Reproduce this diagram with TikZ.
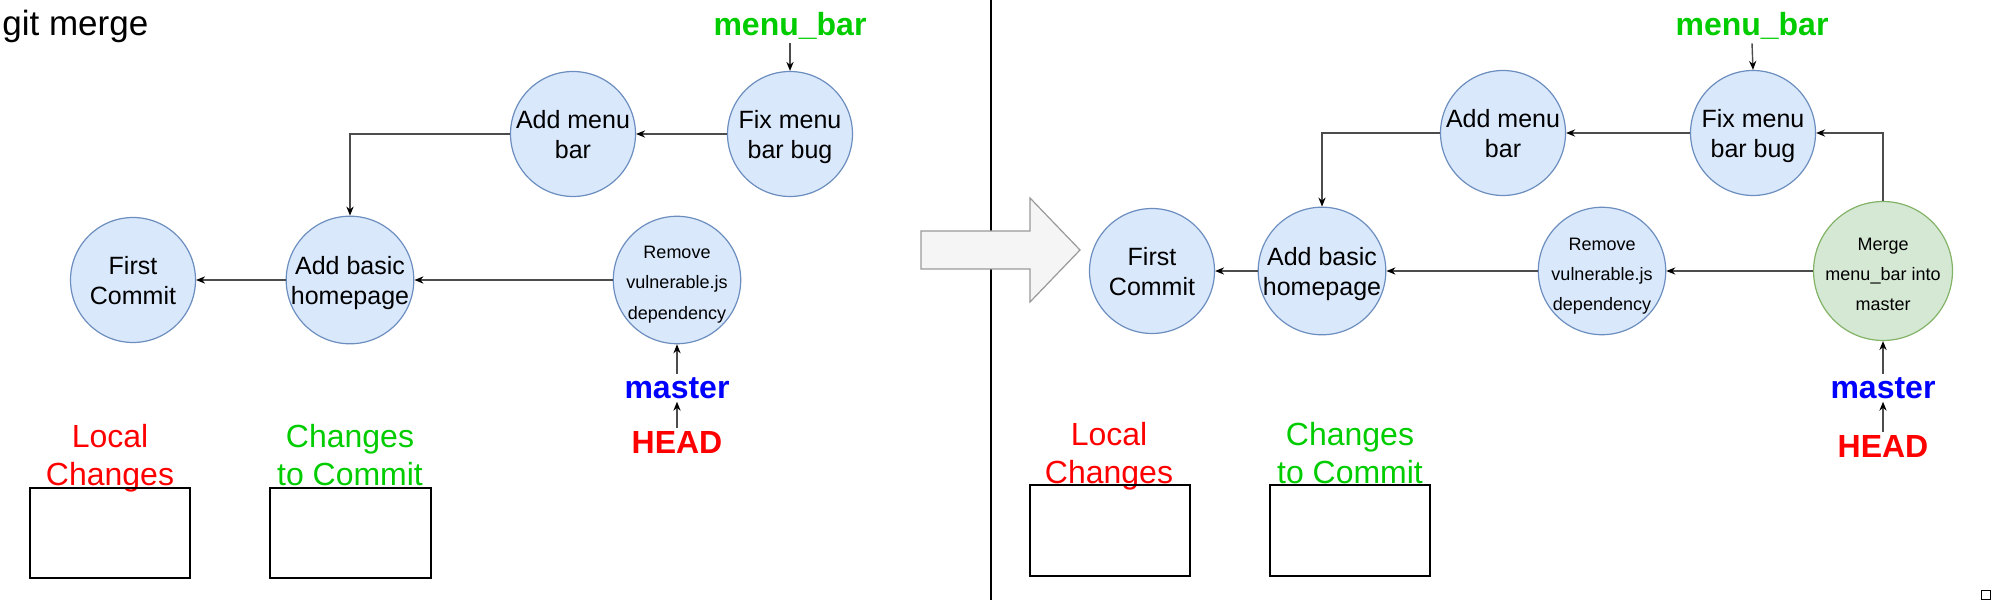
\documentclass[tikz,border=0pt]{standalone}
\usepackage{fontspec}
\setmainfont{Liberation Sans}
\definecolor{gitblue}{HTML}{DAE8FC}
\definecolor{gitblueline}{HTML}{6C8EBF}
\definecolor{gitgreen}{HTML}{D5E8D4}
\definecolor{gitgreenline}{HTML}{82B366}
\definecolor{gitred}{HTML}{FF0000}
\definecolor{gitlime}{HTML}{00CC00}
\definecolor{gitnavy}{HTML}{0000FF}
\definecolor{gitarrow}{HTML}{F5F5F5}
\definecolor{gitarrowline}{HTML}{999999}
\usetikzlibrary{arrows.meta,positioning}

\tikzset{
  commit/.style={circle,fill=gitblue,draw=gitblueline,line width=0.6pt,
    minimum size=62.5pt,inner sep=0pt,align=center,
    text height=24.5pt,text depth=0pt,
    font=\fontsize{12.5}{15.2}\selectfont},
  smallcommit/.style={commit,text height=39pt,
    font=\fontsize{9}{15}\selectfont},
  mergecommit/.style={smallcommit,fill=gitgreen,draw=gitgreenline},
  branch/.style={font=\fontsize{16}{19}\selectfont\bfseries,inner sep=1.5pt},
  area/.style={font=\fontsize{16}{19}\selectfont,align=center,inner sep=0pt,
    text height=29pt,text depth=0pt},
  areabox/.style={draw=black,line width=0.7pt},
  edge/.style={draw=black!70,line width=0.7pt,
    -{Stealth[length=4.5pt,width=3.6pt,black]}},
}

\begin{document}
\begin{tikzpicture}[x=0.5pt,y=-0.5pt]
  \useasboundingbox (0,0) rectangle (1991,604);

  %% Divider and big arrow
  \draw[line width=0.6pt] (991,0) -- (991,600);
  \filldraw[fill=gitarrow,draw=gitarrowline,line width=0.6pt]
    (921,231) -- (1030,231) -- (1030,198) -- (1080,250)
    -- (1030,302) -- (1030,269) -- (921,269) -- cycle;

  \node[anchor=base west,font=\fontsize{17.5}{21}\selectfont,inner sep=0pt]
    (title) at (2,36) {git merge};

  %% Before the merge
  \node[commit] (addmenu) at (573,134) {Add menu\\bar};
  \node[commit] (fixmenu) at (790,134) {Fix menu\\bar bug};
  \node[commit] (first)   at (133,280) {First\\Commit};
  \node[commit] (basic)   at (350,280) {Add basic\\homepage};
  \node[smallcommit] (remove) at (677,280) {Remove\\vulnerable.js\\dependency};

  \node[branch,text=gitlime,anchor=base] (menubar) at (790,36) {menu\_bar};
  \node[branch,text=gitnavy,anchor=base] (master)  at (677,398) {master};
  \node[branch,text=gitred,anchor=base]  (head)    at (677,453) {HEAD};

  \draw[edge] (fixmenu) -- (addmenu);
  \draw[edge] (addmenu.west) -| (basic.north);
  \draw[edge] (remove) -- (basic);
  \draw[edge] (basic) -- (first);
  \draw[edge] (menubar.south) -- (fixmenu.north);
  \draw[edge] (master.north) -- (remove.south);
  \draw[edge] (head.north) -- (master.south);

  \node[area,text=gitred]  (local)  at (110,456) {Local\\Changes};
  \node[area,text=gitlime] (staged) at (350,456) {Changes\\to Commit};
  \draw[areabox] (30,488) rectangle (190,578);
  \draw[areabox] (270,488) rectangle (431,578);

  %% After the merge
  \node[commit] (addmenuR) at (1503,133) {Add menu\\bar};
  \node[commit] (fixmenuR) at (1753,133) {Fix menu\\bar bug};
  \node[commit] (firstR)   at (1152,271) {First\\Commit};
  \node[commit] (basicR)   at (1322,271) {Add basic\\homepage};
  \node[smallcommit] (removeR) at (1602,271) {Remove\\vulnerable.js\\dependency};
  \node[mergecommit] (mergeR)  at (1883,271) {Merge\\menu\_bar into\\master};

  \node[branch,text=gitlime,anchor=base] (menubarR) at (1752,36) {menu\_bar};
  \node[branch,text=gitnavy,anchor=base] (masterR)  at (1883,398) {master};
  \node[branch,text=gitred,anchor=base]  (headR)    at (1883,457) {HEAD};

  \draw[edge] (fixmenuR) -- (addmenuR);
  \draw[edge] (addmenuR.west) -| (basicR.north);
  \draw[edge] (mergeR.north) |- (fixmenuR.east);
  \draw[edge] (mergeR) -- (removeR);
  \draw[edge] (removeR) -- (basicR);
  \draw[edge] (basicR) -- (firstR);
  \draw[edge] (menubarR.south) -- (fixmenuR.north);
  \draw[edge] (masterR.north) -- (mergeR.south);
  \draw[edge] (headR.north) -- (masterR.south);

  \node[area,text=gitred]  (localR)  at (1109,454) {Local\\Changes};
  \node[area,text=gitlime] (stagedR) at (1350,454) {Changes\\to Commit};
  \draw[areabox] (1030,485) rectangle (1190,576);
  \draw[areabox] (1270,485) rectangle (1430,576);

  \draw[line width=0.5pt] (1981,590) rectangle (1990,599);
\end{tikzpicture}
\end{document}
